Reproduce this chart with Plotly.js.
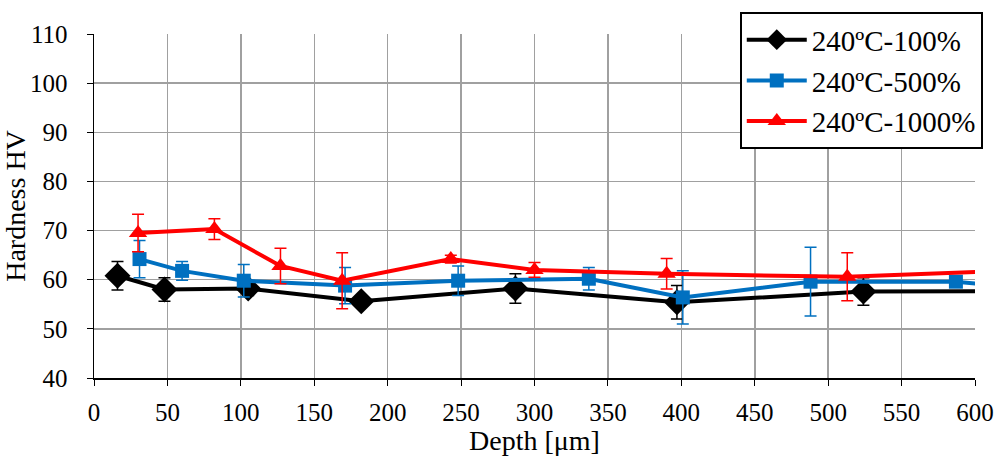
<!DOCTYPE html>
<html>
<head>
<meta charset="utf-8">
<script src="https://cdn.plot.ly/plotly-3.0.1.min.js"></script>
<style>html,body{margin:0;padding:0;background:#fff;}#chart{width:998px;height:461px;}</style>
</head>
<body>
<div id="chart"></div>
<script>
const seriesNames = ["240ºC-100%", "240ºC-500%", "240ºC-1000%"];

const depth100 = [16, 48, 105, 182, 287, 397, 524, 640];
const hv100 = [60.8, 58.0, 58.2, 55.6, 58.2, 55.4, 57.6, 57.7];
const err100 = [2.9, 2.4, 1.4, 0.9, 3.0, 3.4, 2.8, 0];

const depth500 = [31, 60, 102, 171, 248, 337, 401, 488, 587, 640];
const hv500 = [64.2, 61.8, 59.8, 58.8, 59.8, 60.2, 56.4, 59.6, 59.6, 58.0];
const err500 = [3.8, 1.9, 3.3, 3.7, 3.0, 2.3, 5.4, 7.0, 0.3, 0];

const depth1000 = [30, 82, 127, 169, 243, 300, 390, 513, 640];
const hv1000 = [69.5, 70.3, 62.8, 59.8, 64.2, 62.0, 61.2, 60.6, 62.0];
const err1000 = [3.8, 2.1, 3.6, 5.7, 0.8, 1.5, 3.1, 4.9, 0];

const xTicks = [0, 50, 100, 150, 200, 250, 300, 350, 400, 450, 500, 550, 600];
const yTicks = [40, 50, 60, 70, 80, 90, 100, 110];

function trace(name, x, y, e, color, symbol, size) {
  return {
    type: "scatter", mode: "lines+markers", name: name, x: x, y: y,
    line: {color: color, width: 4},
    marker: {color: color, symbol: symbol, size: size},
    error_y: {type: "data", array: e, visible: true, color: color, thickness: 1.5, width: 6},
    cliponaxis: true
  };
}

const data = [
  trace(seriesNames[0], depth100, hv100, err100, "#000000", "diamond", 20),
  trace(seriesNames[1], depth500, hv500, err500, "#0070C0", "square", 14),
  trace(seriesNames[2], depth1000, hv1000, err1000, "#FF0000", "triangle-up", 16)
];

const fam = "'Liberation Serif', 'Times New Roman', serif";
const font = {family: fam, color: "#000", size: 25};

const layout = {
  width: 998, height: 461,
  margin: {l: 94, r: 23, t: 30, b: 83},
  paper_bgcolor: "#fff", plot_bgcolor: "#fff",
  font: font,
  showlegend: true,
  legend: {
    x: 0.733, y: 1.063, xanchor: "left", yanchor: "top",
    bgcolor: "#fff", bordercolor: "#000", borderwidth: 2,
    font: {family: fam, size: 29, color: "#000"},
    itemwidth: 60, tracegroupgap: 8
  },
  xaxis: {
    range: [0, 600], tickvals: xTicks, ticktext: xTicks.map(String),
    showgrid: true, gridcolor: "#a0a0a0", gridwidth: 1.5,
    showline: true, linecolor: "#000", linewidth: 1.5,
    ticks: "outside", ticklen: 6, tickcolor: "#000", ticklabelstandoff: 5,
    zeroline: false, tickfont: {family: fam, size: 25, color: "#000"},
    title: {text: "Depth [μm]", font: {family: fam, size: 28, color: "#000"}, standoff: 2}
  },
  yaxis: {
    range: [40, 110], tickvals: yTicks, ticktext: yTicks.map(String),
    showgrid: true, gridcolor: "#a0a0a0", gridwidth: 1.5,
    showline: true, linecolor: "#000", linewidth: 1.5,
    ticks: "outside", ticklen: 6, tickcolor: "#000", ticklabelstandoff: 14,
    zeroline: false, tickfont: {family: fam, size: 25, color: "#000"},
    title: {text: "Hardness HV", font: {family: fam, size: 28, color: "#000"}, standoff: 2}
  }
};

Plotly.newPlot("chart", data, layout, {displayModeBar: false, staticPlot: true});
</script>
</body>
</html>
